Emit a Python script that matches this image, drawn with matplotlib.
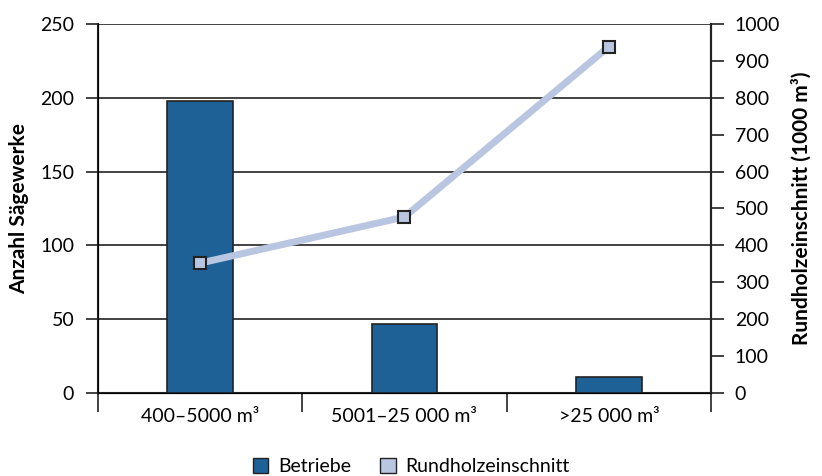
import numpy as np
import matplotlib.pyplot as plt
from matplotlib.patches import Patch

plt.rcParams['font.family'] = ['Lato', 'DejaVu Sans']

categories = ['400–5000 m³', '5001–25 000 m³', '>25 000 m³']
betriebe = [198, 47, 11]
rundholz = [352, 477, 938]

bar_col = '#1e6196'
line_col = '#b9c6e1'

fig = plt.figure(figsize=(8.22, 4.76), dpi=100)
ax = fig.add_axes([0.119, 0.174, 0.746, 0.776])
ax2 = ax.twinx()

x = np.arange(len(categories))
ax.bar(x, betriebe, width=0.32, color=bar_col, edgecolor='#222222', linewidth=1.2, zorder=3)
ax.set_xlim(-0.5, 2.5)
ax.set_ylim(0, 250)
ax.set_yticks(range(0, 251, 50))
ax.yaxis.grid(True, color='#222222', linewidth=1.2, zorder=0)
ax.set_axisbelow(True)
ax.set_xticks(x)
ax.set_xticklabels(categories, fontsize=14)
ax.set_xticks([-0.5, 0.5, 1.5, 2.5], minor=True)
ax.tick_params(axis='x', which='major', length=0, pad=11)
ax.tick_params(axis='x', which='minor', length=14, width=1.2, color='#222222')
ax.tick_params(axis='y', length=9, width=1.2, labelsize=14, color='#222222', pad=8)
ax.set_ylabel('Anzahl Sägewerke', fontsize=15, fontweight='bold', labelpad=8)
ax.spines['top'].set_visible(False)
for s in ['left', 'bottom', 'right']:
    ax.spines[s].set_linewidth(1.5)
    ax.spines[s].set_color('#222222')

ax2.plot(x, rundholz, color=line_col, linewidth=5, marker='s', markersize=9,
         markerfacecolor=line_col, markeredgecolor='#222222', markeredgewidth=1.5, zorder=5)
ax2.set_ylim(0, 1000)
ax2.set_yticks(range(0, 1001, 100))
ax2.tick_params(axis='y', length=9, width=1.2, labelsize=14, color='#222222', pad=8)
ax2.set_ylabel('Rundholzeinschnitt (1000 m³)', fontsize=15, fontweight='bold', labelpad=8)
ax2.spines['top'].set_visible(False)
ax2.spines['right'].set_linewidth(1.5)
ax2.spines['right'].set_color('#222222')

handles = [Patch(facecolor=bar_col, edgecolor='#222222'),
           Patch(facecolor=line_col, edgecolor='#222222')]
fig.legend(handles, ['Betriebe', 'Rundholzeinschnitt'], loc='lower center',
           bbox_to_anchor=(0.5, -0.035), ncol=2, frameon=False, fontsize=14,
           handlelength=0.8, handleheight=0.8, columnspacing=1.5, handletextpad=0.5)

fig.savefig('out.png', dpi=100)
